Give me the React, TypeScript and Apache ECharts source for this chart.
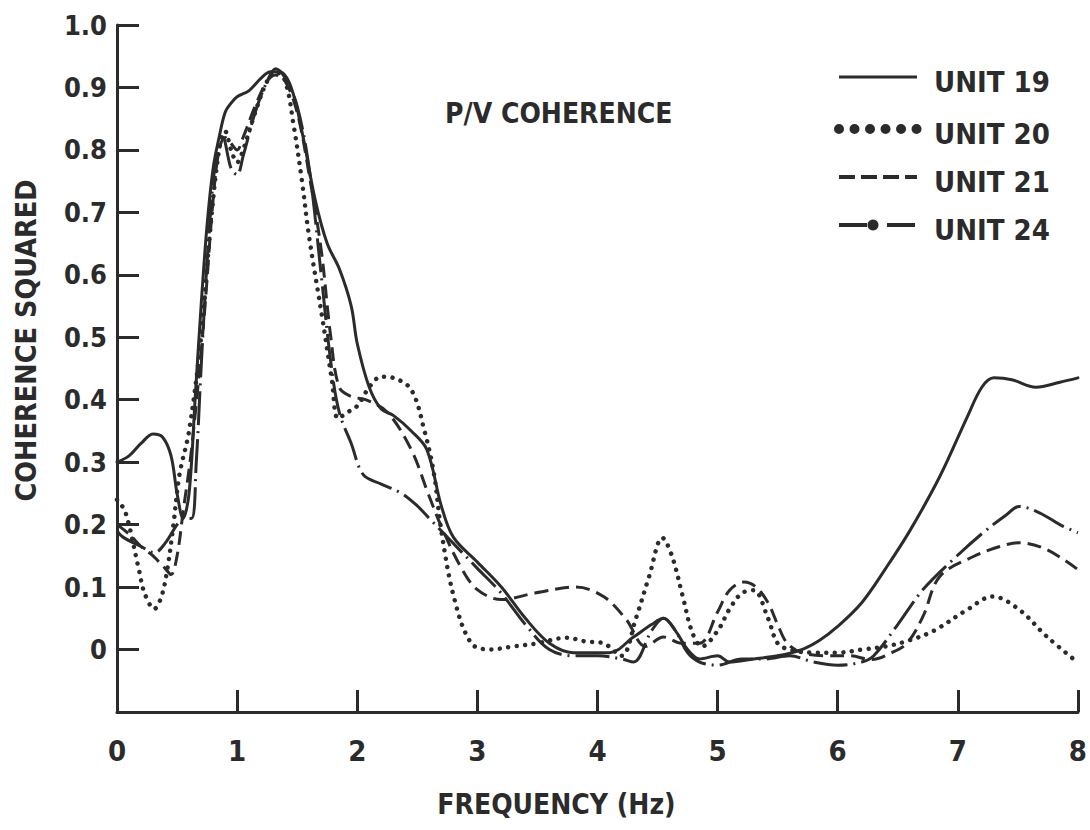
import React, { useEffect, useRef } from "react";
import * as echarts from "echarts";

const chartTitle = "P/V COHERENCE";
const xAxisTitle = "FREQUENCY (Hz)";
const yAxisTitle = "COHERENCE SQUARED";
const seriesNames = ["UNIT 19", "UNIT 20", "UNIT 21", "UNIT 24"];

// UNIT 19 (solid)
const unit19Freq = [0, 0.1, 0.2, 0.3, 0.38, 0.45, 0.5, 0.55, 0.6, 0.65, 0.7, 0.75, 0.8, 0.85, 0.9, 0.95, 1.0, 1.1, 1.2, 1.28, 1.35, 1.45, 1.55, 1.65, 1.75, 1.85, 1.95, 2.0, 2.1, 2.2, 2.3, 2.45, 2.58, 2.7, 2.8, 3.0, 3.2, 3.4, 3.6, 3.8, 4.1, 4.3, 4.45, 4.55, 4.65, 4.75, 4.85, 5.0, 5.1, 5.3, 5.5, 5.7, 5.85, 6.0, 6.2, 6.4, 6.6, 6.85, 7.08, 7.2, 7.3, 7.45, 7.65, 7.85, 8.0];
const unit19Coh = [0.30, 0.31, 0.33, 0.345, 0.34, 0.31, 0.25, 0.21, 0.25, 0.4, 0.55, 0.68, 0.77, 0.82, 0.86, 0.875, 0.885, 0.895, 0.915, 0.925, 0.925, 0.9, 0.82, 0.72, 0.65, 0.61, 0.55, 0.49, 0.42, 0.385, 0.375, 0.35, 0.32, 0.23, 0.18, 0.14, 0.1, 0.05, 0.01, -0.005, -0.005, 0.02, 0.04, 0.05, 0.03, 0.0, -0.015, -0.01, -0.02, -0.015, -0.01, 0.0, 0.015, 0.037, 0.075, 0.13, 0.19, 0.277, 0.373, 0.42, 0.435, 0.432, 0.42, 0.428, 0.435];

// UNIT 20 (dotted)
const unit20Freq = [0, 0.07, 0.18, 0.23, 0.31, 0.37, 0.42, 0.47, 0.52, 0.6, 0.7, 0.78, 0.85, 0.9, 0.95, 1.0, 1.05, 1.15, 1.25, 1.32, 1.4, 1.47, 1.54, 1.6, 1.71, 1.79, 1.84, 1.92, 2.0, 2.1, 2.2, 2.3, 2.45, 2.56, 2.64, 2.7, 2.81, 2.95, 3.1, 3.3, 3.5, 3.74, 3.9, 4.05, 4.2, 4.32, 4.43, 4.54, 4.62, 4.71, 4.79, 4.87, 5.0, 5.1, 5.2, 5.3, 5.42, 5.5, 5.6, 5.8, 6.0, 6.2, 6.4, 6.6, 6.8, 7.08, 7.29, 7.51, 7.74, 8.0];
const unit20Coh = [0.24, 0.22, 0.13, 0.09, 0.065, 0.085, 0.13, 0.2, 0.28, 0.35, 0.5, 0.68, 0.8, 0.83, 0.8, 0.78, 0.8, 0.86, 0.91, 0.925, 0.91, 0.84, 0.75, 0.66, 0.53, 0.43, 0.37, 0.38, 0.39, 0.42, 0.437, 0.435, 0.416, 0.35, 0.28, 0.19, 0.08, 0.01, 0.0, 0.005, 0.01, 0.019, 0.013, 0.01, -0.01, 0.05, 0.117, 0.179, 0.15, 0.085, 0.027, 0.005, 0.03, 0.065, 0.09, 0.095, 0.05, 0.01, 0.0, -0.005, -0.005, 0.0, 0.005, 0.015, 0.03, 0.064, 0.085, 0.064, 0.021, -0.021];

// UNIT 21 (dashed)
const unit21Freq = [0, 0.1, 0.2, 0.3, 0.4, 0.45, 0.5, 0.55, 0.62, 0.72, 0.8, 0.85, 0.9, 0.95, 1.0, 1.05, 1.15, 1.25, 1.32, 1.4, 1.5, 1.6, 1.7, 1.78, 1.85, 1.95, 2.07, 2.25, 2.45, 2.59, 2.7, 2.86, 3.0, 3.2, 3.49, 3.82, 4.05, 4.24, 4.4, 4.55, 4.7, 4.85, 5.0, 5.1, 5.22, 5.32, 5.42, 5.5, 5.58, 5.7, 5.9, 6.1, 6.28, 6.45, 6.58, 6.71, 6.85, 7.13, 7.35, 7.51, 7.74, 8.0];
const unit21Coh = [0.2, 0.185, 0.165, 0.15, 0.13, 0.12, 0.15, 0.22, 0.32, 0.52, 0.72, 0.8, 0.82, 0.81, 0.8, 0.82, 0.87, 0.91, 0.92, 0.91, 0.86, 0.76, 0.64, 0.5, 0.42, 0.405, 0.4, 0.38, 0.32, 0.25, 0.197, 0.133, 0.096, 0.08, 0.091, 0.1, 0.085, 0.048, 0.005, 0.02, 0.01, 0.01, 0.06, 0.095, 0.108, 0.1, 0.075, 0.04, 0.01, -0.005, -0.01, -0.01, -0.016, -0.005, 0.011, 0.053, 0.117, 0.149, 0.165, 0.171, 0.16, 0.128];

// UNIT 24 (dash-dot)
const unit24Freq = [0, 0.05, 0.2, 0.31, 0.4, 0.5, 0.55, 0.62, 0.66, 0.7, 0.76, 0.82, 0.88, 0.95, 1.0, 1.05, 1.15, 1.25, 1.32, 1.4, 1.5, 1.6, 1.7, 1.78, 1.85, 1.95, 2.05, 2.2, 2.37, 2.5, 2.6, 2.7, 2.85, 3.0, 3.2, 3.4, 3.6, 3.8, 4.0, 4.2, 4.3, 4.45, 4.55, 4.65, 4.75, 4.85, 5.0, 5.2, 5.4, 5.6, 5.8, 6.0, 6.2, 6.3, 6.5, 6.71, 6.96, 7.21, 7.4, 7.51, 7.68, 7.85, 8.0];
const unit24Coh = [0.19, 0.18, 0.165, 0.155, 0.17, 0.2, 0.21, 0.21, 0.3, 0.45, 0.65, 0.78, 0.82, 0.77, 0.76, 0.79, 0.86, 0.91, 0.93, 0.915, 0.87, 0.77, 0.6, 0.46, 0.38, 0.33, 0.28, 0.265, 0.25, 0.23, 0.21, 0.19, 0.16, 0.13, 0.09, 0.04, 0.0, -0.01, -0.01, -0.015, -0.02, 0.03, 0.05, 0.03, -0.005, -0.02, -0.025, -0.015, -0.015, -0.01, -0.02, -0.025, -0.02, -0.01, 0.04, 0.096, 0.144, 0.187, 0.215, 0.229, 0.219, 0.2, 0.187];

const INK = "#2b2b2b";
const FONT = '"DejaVu Sans Condensed", "DejaVu Sans", sans-serif';

const pairs = (xs: number[], ys: number[]) => xs.map((x, i) => [x, ys[i]]);

export default function App() {
  const ref = useRef<HTMLDivElement>(null);
  useEffect(() => {
    if (!ref.current) return;
    const chart = echarts.init(ref.current, null, { renderer: "svg" });

    const lineStyles = [
      { width: 3, type: "solid" as any, cap: "round" },
      { width: 4.5, type: [0.01, 8.5], cap: "round" },
      { width: 3, type: [14, 7], cap: "butt" },
      { width: 3, type: [34, 6, 2, 6], cap: "butt" },
    ];
    const datasets = [
      pairs(unit19Freq, unit19Coh),
      pairs(unit20Freq, unit20Coh),
      pairs(unit21Freq, unit21Coh),
      pairs(unit24Freq, unit24Coh),
    ];

    const legendYs = [77, 129, 177, 225];
    const legendDash: any[] = [null, [0.01, 15.5], [16, 6], [28, 9, 2, 9]];
    const legendWidth = [3, 10, 4, 4];
    const legendGraphics: any[] = [];
    seriesNames.forEach((name, i) => {
      legendGraphics.push({
        type: "line",
        shape: { x1: 839, y1: legendYs[i], x2: 917, y2: legendYs[i] },
        style: {
          stroke: INK,
          lineWidth: legendWidth[i],
          lineDash: legendDash[i],
          lineCap: i === 1 ? "round" : "butt",
        },
      });
      legendGraphics.push({
        type: "text",
        x: 934,
        y: legendYs[i] + 5,
        style: {
          text: name,
          fill: INK,
          font: `bold 29px ${FONT}`,
          verticalAlign: "middle",
          align: "left",
        },
      });
    });
    legendGraphics.push({
      type: "circle",
      shape: { cx: 873, cy: legendYs[3], r: 5.5 },
      style: { fill: INK },
    });

    chart.setOption({
      animation: false,
      backgroundColor: "#ffffff",
      title: {
        text: chartTitle,
        left: 440,
        top: 94,
        textStyle: { fontFamily: FONT, fontWeight: "bold", fontSize: 28, color: INK },
      },
      grid: { left: 117, right: 10, top: 25, bottom: 118, containLabel: false },
      xAxis: {
        type: "value",
        min: 0,
        max: 8,
        interval: 1,
        name: xAxisTitle,
        nameLocation: "middle",
        nameGap: 78,
        nameTextStyle: {
          fontFamily: FONT,
          fontWeight: "bold",
          fontSize: 28,
          color: INK,
          padding: [0, 82, 0, 0],
        },
        axisLine: { show: true, onZero: false, lineStyle: { color: INK, width: 3 } },
        axisTick: { show: true, inside: true, length: 22, lineStyle: { color: INK, width: 3 } },
        axisLabel: {
          margin: 24,
          fontFamily: FONT,
          fontWeight: "bold",
          fontSize: 29,
          color: INK,
        },
        splitLine: { show: false },
      },
      yAxis: {
        type: "value",
        min: -0.1,
        max: 1.0,
        interval: 0.1,
        name: yAxisTitle,
        nameLocation: "middle",
        nameGap: 76,
        nameRotate: 90,
        nameTextStyle: {
          fontFamily: FONT,
          fontWeight: "bold",
          fontSize: 28.5,
          color: INK,
          padding: [0, 0, 0, 56],
        },
        axisLine: { show: true, onZero: false, lineStyle: { color: INK, width: 3 } },
        axisTick: { show: true, inside: true, length: 22, lineStyle: { color: INK, width: 3 } },
        axisLabel: {
          margin: 10,
          fontFamily: FONT,
          fontWeight: "bold",
          fontSize: 27,
          color: INK,
          formatter: (v: number) => {
            if (v < -0.05) return "";
            if (Math.abs(v) < 1e-9) return "0";
            return v.toFixed(1);
          },
        },
        splitLine: { show: false },
      },
      graphic: legendGraphics,
      series: seriesNames.map((name, i) => ({
        name,
        type: "line",
        data: datasets[i],
        smooth: 0.35,
        showSymbol: false,
        symbol: "none",
        clip: false,
        lineStyle: { color: INK, ...lineStyles[i] },
      })),
    });
    return () => chart.dispose();
  }, []);
  return (
    <div
      ref={ref}
      style={{ position: "absolute", left: 0, top: 0, width: 1090, height: 830, background: "#fff" }}
    />
  );
}
